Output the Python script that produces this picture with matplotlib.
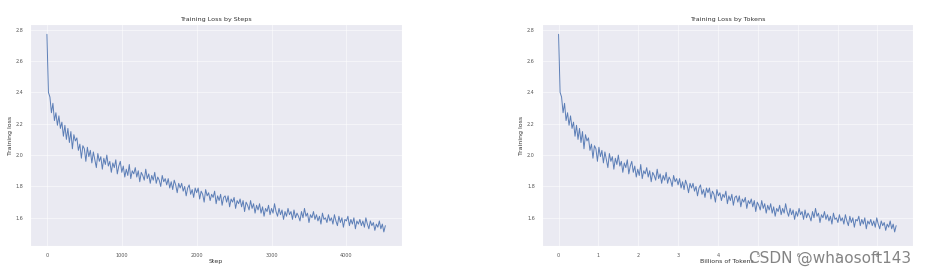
import matplotlib
matplotlib.use('Agg')
import matplotlib.pyplot as plt
import seaborn as sns
import numpy as np

# loss, one value every 20 steps
step_interval = 20
loss = [
    2.77, 2.40, 2.37, 2.27, 2.33, 2.22, 2.27, 2.19, 2.25, 2.17,
    2.21, 2.12, 2.19, 2.10, 2.17, 2.08, 2.15, 2.04, 2.13, 2.09,
    2.11, 2.03, 2.07, 1.98, 2.06, 2.04, 1.96, 2.05, 1.99, 2.03,
    1.95, 2.02, 1.97, 1.92, 2.01, 1.96, 1.99, 1.91, 1.98, 1.94,
    2.00, 1.93, 1.96, 1.89, 1.95, 1.92, 1.97, 1.88, 1.93, 1.96,
    1.89, 1.93, 1.86, 1.91, 1.87, 1.94, 1.85, 1.90, 1.88, 1.92,
    1.86, 1.90, 1.83, 1.89, 1.87, 1.84, 1.91, 1.85, 1.88, 1.82,
    1.87, 1.84, 1.89, 1.82, 1.86, 1.84, 1.80, 1.87, 1.83, 1.85,
    1.81, 1.85, 1.79, 1.83, 1.78, 1.84, 1.81, 1.76, 1.82, 1.79,
    1.82, 1.77, 1.80, 1.74, 1.79, 1.81, 1.75, 1.78, 1.73, 1.79,
    1.76, 1.79, 1.72, 1.77, 1.75, 1.70, 1.78, 1.74, 1.76, 1.71,
    1.75, 1.73, 1.77, 1.69, 1.74, 1.71, 1.75, 1.68, 1.73, 1.74,
    1.70, 1.74, 1.67, 1.72, 1.70, 1.73, 1.66, 1.71, 1.69, 1.72,
    1.67, 1.71, 1.64, 1.70, 1.68, 1.65, 1.71, 1.66, 1.69, 1.63,
    1.68, 1.65, 1.69, 1.63, 1.67, 1.61, 1.66, 1.64, 1.68, 1.62,
    1.66, 1.63, 1.69, 1.64, 1.61, 1.66, 1.62, 1.65, 1.59, 1.64,
    1.61, 1.66, 1.62, 1.64, 1.59, 1.65, 1.60, 1.63, 1.61, 1.58,
    1.64, 1.60, 1.66, 1.61, 1.63, 1.57, 1.62, 1.60, 1.64, 1.59,
    1.62, 1.58, 1.61, 1.56, 1.63, 1.59, 1.60, 1.57, 1.62, 1.58,
    1.60, 1.56, 1.62, 1.58, 1.55, 1.61, 1.57, 1.60, 1.54, 1.59,
    1.58, 1.61, 1.55, 1.59, 1.56, 1.60, 1.53, 1.58, 1.56, 1.59,
    1.55, 1.58, 1.54, 1.60, 1.56, 1.53, 1.58, 1.55, 1.57, 1.52,
    1.56, 1.54, 1.58, 1.53, 1.56, 1.51, 1.55,
]
steps = np.arange(len(loss)) * step_interval
tokens_per_step_billion = 8.47 / 4520
tokens = steps * tokens_per_step_billion

sns.set_style('darkgrid')
plt.rcParams['font.family'] = ['DejaVu Sans']

fig = plt.figure(figsize=(9.26, 2.74), dpi=100)
ax1 = fig.add_axes([0.0324, 0.102, 0.402, 0.810])
ax2 = fig.add_axes([0.585, 0.102, 0.401, 0.810])

for ax, x, title, xlabel in [(ax1, steps, 'Training Loss by Steps', 'Step'),
                             (ax2, tokens, 'Training Loss by Tokens', 'Billions of Tokens')]:
    ax.plot(x, loss, color='#4C72B0', linewidth=0.7, alpha=0.9)
    ax.set_title(title, fontsize=4.6, pad=2, color='#333333')
    ax.set_xlabel(xlabel, fontsize=4.5, labelpad=1, color='#333333')
    ax.set_ylabel('Training loss', fontsize=4.5, labelpad=2, color='#333333')
    ax.set_ylim(1.42, 2.835)
    ax.set_yticks([1.6, 1.8, 2.0, 2.2, 2.4, 2.6, 2.8])
    ax.tick_params(labelsize=3.5, pad=1.5, colors='#555555')
    ax.grid(True, color='white', linewidth=0.5, alpha=0.7)

ax1.set_xticks([0, 1000, 2000, 3000, 4000])
ax2.set_xticks(range(0, 9))

fig.text(0.984, 0.03, 'CSDN @whaosoft143', fontsize=11, color='#777777',
         ha='right', va='bottom', alpha=0.9)

fig.savefig('out.png', dpi=100)
